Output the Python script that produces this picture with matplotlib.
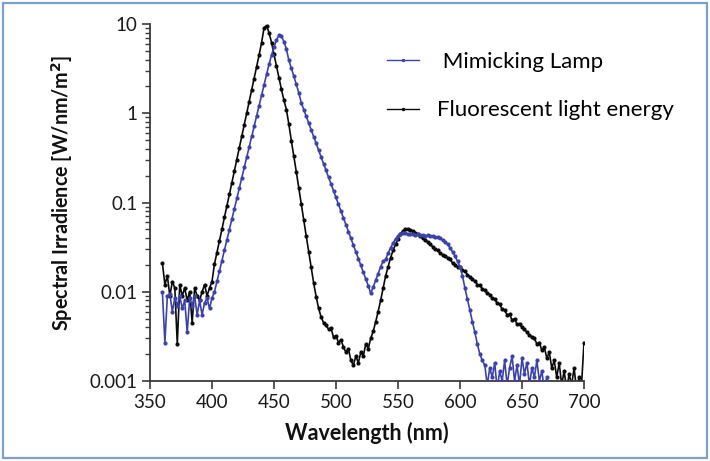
import numpy as np
import matplotlib
matplotlib.use("Agg")
import matplotlib.pyplot as plt
from matplotlib.ticker import LogLocator, FixedLocator, NullFormatter
from matplotlib.patches import Rectangle

# ---------------- data ----------------
black_nm = list(range(360, 701, 2))
black_val = [
    0.021, 0.012, 0.015, 0.009, 0.013, 0.011, 0.0026, 0.012, 0.009, 0.011,   # 360-378
    0.008, 0.010, 0.0045, 0.011, 0.009, 0.008, 0.010, 0.012, 0.009, 0.011,   # 380-398
    0.013, 0.0205, 0.0275, 0.037, 0.050, 0.068, 0.091, 0.123, 0.166, 0.224,  # 400-418
    0.30, 0.41, 0.55, 0.74, 1.0, 1.35, 1.82, 2.45, 3.3, 4.5,                 # 420-438
    6.2, 9.1, 9.6, 8.0, 6.2, 4.6, 3.4, 2.5, 1.85, 1.4,                       # 440-458
    1.1, 0.75, 0.49, 0.33, 0.22, 0.145, 0.097, 0.064, 0.042, 0.028,          # 460-478
    0.019, 0.0125, 0.0088, 0.0065, 0.0052, 0.0045, 0.0042, 0.0038, 0.0039, 0.0031,  # 480-498
    0.0032, 0.0027, 0.0029, 0.0024, 0.0021, 0.0023, 0.0017, 0.0015, 0.0019, 0.0016,  # 500-518
    0.0021, 0.0019, 0.0026, 0.0023, 0.0030, 0.0036, 0.0046, 0.0060, 0.0080, 0.011,   # 520-538
    0.015, 0.019, 0.024, 0.029, 0.034, 0.039, 0.044, 0.048, 0.050, 0.051,   # 540-558
    0.049, 0.048, 0.046, 0.044, 0.042, 0.040, 0.038, 0.036, 0.034, 0.032,   # 560-578
    0.030, 0.029, 0.027, 0.026, 0.025, 0.024, 0.023, 0.021, 0.020, 0.019,   # 580-598
    0.0187, 0.0175, 0.017, 0.0155, 0.0148, 0.0138, 0.0132, 0.0120, 0.0118, 0.0108,  # 600-618
    0.0104, 0.0096, 0.0093, 0.0085, 0.0083, 0.0074, 0.0072, 0.0064, 0.0062, 0.0055,  # 620-638
    0.0056, 0.0048, 0.0050, 0.0043, 0.0044, 0.0040, 0.0038, 0.0035, 0.0033, 0.0031,  # 640-658
    0.0030, 0.0026, 0.0027, 0.0022, 0.0024, 0.0018, 0.0021, 0.0014, 0.0017, 0.0011,  # 660-678
    0.0016, 0.0009, 0.0013, 0.0008, 0.0012, 0.0009, 0.0014, 0.0008, 0.0011, 0.0009,  # 680-698
    0.0027,                                                                    # 700
]

blue_nm = list(range(360, 673, 2))
blue_val = [
    0.010, 0.0027, 0.009, 0.0095, 0.006, 0.0085, 0.007, 0.009, 0.0065, 0.008,    # 360-378
    0.0035, 0.0085, 0.007, 0.009, 0.0055, 0.008, 0.0055, 0.0075, 0.0085, 0.0065,  # 380-398
    0.0085, 0.0100, 0.0131, 0.0171, 0.0223, 0.0291, 0.038, 0.0497, 0.0649, 0.0847,  # 400-418
    0.111, 0.145, 0.189, 0.247, 0.322, 0.421, 0.55, 0.718, 0.938, 1.22,      # 420-438
    1.60, 2.09, 2.73, 3.55, 4.47, 5.5, 6.6, 7.5, 7.4, 6.3,                  # 440-458
    5.25, 3.9, 3.2, 2.6, 2.1, 1.7, 1.31, 1.10, 0.927, 0.778,                # 460-478
    0.653, 0.548, 0.460, 0.386, 0.324, 0.272, 0.229, 0.192, 0.161, 0.135,   # 480-498
    0.114, 0.0953, 0.080, 0.0671, 0.0564, 0.0473, 0.0397, 0.0333, 0.028, 0.0235,  # 500-518
    0.0197, 0.0166, 0.0139, 0.0117, 0.0096, 0.0113, 0.0135, 0.016, 0.019, 0.022,  # 520-538
    0.023, 0.027, 0.031, 0.035, 0.039, 0.042, 0.044, 0.045, 0.045, 0.044,  # 540-558
    0.044, 0.044, 0.043, 0.044, 0.043, 0.043, 0.042, 0.043, 0.042, 0.042,  # 560-578
    0.041, 0.041, 0.040, 0.038, 0.036, 0.034, 0.031, 0.028, 0.025, 0.022,  # 580-598
    0.019, 0.015, 0.011, 0.0082, 0.0062, 0.0046, 0.0035, 0.0026, 0.0020, 0.0017,  # 600-618
    0.0015, 0.0009, 0.0014, 0.0011, 0.0016, 0.0008, 0.0013, 0.0010, 0.0017, 0.0009,  # 620-638
    0.0014, 0.0019, 0.0010, 0.0015, 0.0009, 0.0018, 0.0012, 0.0016, 0.0009, 0.0014,  # 640-658
    0.0011, 0.0017, 0.0010, 0.0013, 0.0008, 0.0011, 0.0009,                   # 660-672
]

x_ticks = [350, 400, 450, 500, 550, 600, 650, 700]
y_ticks = [0.001, 0.01, 0.1, 1, 10]
y_tick_labels = ["0.001", "0.01", "0.1", "1", "10"]
series_labels = [" Mimicking Lamp", "Fluorescent light energy"]

# ---------------- styling ----------------
plt.rcParams['font.family'] = ['Lato', 'DejaVu Sans']
BLUE = '#3c42a6'
BLACK = '#0a0a0a'
AX_COL = '#3a3a3a'

fig = plt.figure(figsize=(7.10, 4.61), dpi=100)
ax = fig.add_axes([150/710, 1 - 381/461, (584 - 150)/710, (381 - 24)/461])

ax.plot(blue_nm, blue_val, color=BLUE, lw=1.2, marker='o', ms=3.0, mew=0,
        label=series_labels[0], zorder=3, clip_on=True)
ax.plot(black_nm, black_val, color=BLACK, lw=1.2, marker='o', ms=3.0, mew=0,
        label=series_labels[1], zorder=2, clip_on=True)

ax.set_yscale('log')
ax.set_xlim(350, 700)
ax.set_ylim(0.001, 10)
ax.set_xticks(x_ticks)
ax.set_xticklabels([str(v) for v in x_ticks])
ax.yaxis.set_major_locator(FixedLocator(y_ticks))
ax.set_yticklabels(y_tick_labels)
ax.yaxis.set_minor_locator(LogLocator(base=10, subs=np.arange(2, 10)))
ax.yaxis.set_minor_formatter(NullFormatter())

for s in ['top', 'right']:
    ax.spines[s].set_visible(False)
for s in ['left', 'bottom']:
    ax.spines[s].set_color(AX_COL)
    ax.spines[s].set_linewidth(1.3)

ax.tick_params(axis='both', which='major', direction='out', length=6, width=1.2,
               color=AX_COL, labelsize=13.5, labelcolor='#1a1a1a', pad=3)
ax.tick_params(axis='y', which='minor', direction='out', length=3.5, width=1.0, color=AX_COL)

ax.set_xlabel("Wavelength (nm)", fontsize=15.5, fontweight='bold', color='#111111', labelpad=8)
ax.set_ylabel("Spectral Irradience [W/nm/m$^{\\mathbf{2}}$]", fontsize=14.2,
              fontweight='bold', color='#111111')
ax.yaxis.set_label_coords(-0.172, 0.527)

leg = fig.legend(loc='upper left', bbox_to_anchor=(367/710, 1 - 32/461), frameon=False,
                 fontsize=16, handlelength=1.45, handletextpad=0.8, labelspacing=1.28,
                 numpoints=1)
for h in leg.legend_handles:
    h.set_markersize(2.5)
    h.set_linewidth(1.0)

fig.patches.append(Rectangle((3/710, 3/461), 704/710, 455/461, transform=fig.transFigure,
                             fill=False, edgecolor='#7f9fcb', lw=1.6, zorder=10))

fig.savefig("out.png", dpi=100)
